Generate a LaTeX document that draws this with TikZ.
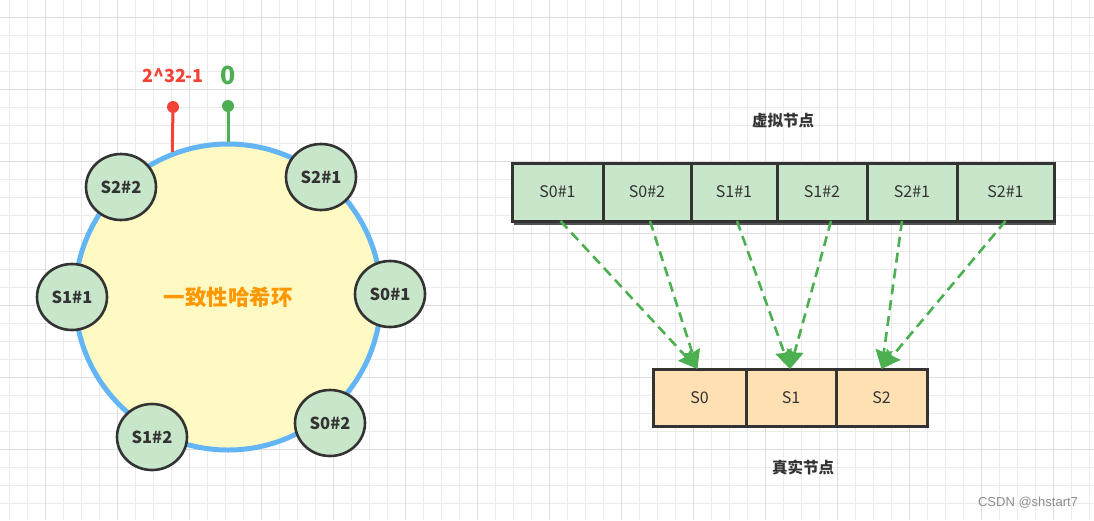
\documentclass[tikz,border=0pt]{standalone}
\usepackage{fontspec}
\setmainfont{Noto Sans CJK SC}
\newfontfamily\markfont{Liberation Sans}
\usepackage{xcolor}
\usetikzlibrary{shapes.geometric,arrows.meta,positioning}
\definecolor{darkline}{HTML}{333333}
\definecolor{ringblue}{HTML}{64B5F6}
\definecolor{ringfill}{HTML}{FFF9C4}
\definecolor{ringorange}{HTML}{FF9800}
\definecolor{vgreen}{HTML}{C8E6C9}
\definecolor{rorange}{HTML}{FFE0B2}
\definecolor{arrowgreen}{HTML}{4CAF50}
\definecolor{pinred}{HTML}{F44336}
\definecolor{gridminor}{HTML}{EBEBEB}
\definecolor{gridmajor}{HTML}{DDDDDD}

\begin{document}
\begin{tikzpicture}[x=1pt,y=-1pt]
\tikzstyle{every node}+=[inner sep=0pt]
\tikzstyle{vnode}=[ellipse,draw=darkline,line width=2.6pt,fill=vgreen,minimum width=70pt,minimum height=66pt,text=darkline,font=\bfseries\fontsize{16.5}{16.5}\selectfont]
\tikzstyle{vcell}=[rectangle,draw=darkline,line width=3pt,outer sep=0pt,fill=vgreen,minimum height=58pt,text=darkline,font=\fontsize{16}{16}\selectfont]
\tikzstyle{rcell}=[vcell,fill=rorange,minimum height=57pt]
\tikzstyle{pindot}=[circle,minimum size=12pt]
\tikzstyle{title}=[text=darkline,font=\bfseries\fontsize{15.5}{15.5}\selectfont]
\tikzstyle{maparrow}=[arrowgreen,line width=2.6pt,dash pattern=on 10pt off 6pt,-{Stealth[length=19pt,width=17pt,inset=2pt]}]
\useasboundingbox (0,0) rectangle (1094,520);
\fill[white] (0,0) rectangle (1094,520);
\foreach \gx in {9,27,...,1090} \draw[gridminor,line width=1pt] (\gx,0) -- (\gx,520);
\foreach \gy in {17,35,...,520} \draw[gridminor,line width=1pt] (0,\gy) -- (1094,\gy);
\foreach \gx in {45,117,...,1060} \draw[gridmajor,line width=1pt] (\gx,0) -- (\gx,520);
\foreach \gy in {17,89,...,460} \draw[gridmajor,line width=1pt] (0,\gy) -- (1094,\gy);

\node[circle,draw=ringblue,line width=5pt,fill=ringfill,minimum size=306pt] (ring) at (228,297) {};
\node[text=ringorange,font=\bfseries\fontsize{21.5}{21.5}\selectfont] (ringname) at (ring.center) {一致性哈希环};

\node[pindot,fill=pinred] (pmax) at (173,107) {};
\node[pindot,fill=arrowgreen] (pzero) at (228,106) {};
\draw[pinred,line width=3pt] (pmax) -- (ring.111);
\draw[arrowgreen,line width=3pt] (pzero) -- (ring.north);
\node[text=pinred,font=\bfseries\fontsize{18}{18}\selectfont] (lmax) at (173,76) {2\^{}32-1};
\node[text=arrowgreen,font=\bfseries\fontsize{25}{25}\selectfont] (lzero) at (228,75) {0};

\node[vnode] (s22) at (121,187) {S2\#2};
\node[vnode] (s21) at (321,177) {S2\#1};
\node[vnode] (s11) at (72,297) {S1\#1};
\node[vnode] (s01) at (390,294) {S0\#1};
\node[vnode] (s12) at (152,437) {S1\#2};
\node[vnode] (s02) at (330,423) {S0\#2};

\node[title] (vtitle) at (783,121) {虚拟节点};
\fill[darkline!85] (514,166) rectangle (1056,225);
\node[vcell,minimum width=91pt,anchor=north west] (v1) at (512,163) {S0\#1};
\node[vcell,minimum width=88pt,right=0pt of v1] (v2) {S0\#2};
\node[vcell,minimum width=86pt,right=0pt of v2] (v3) {S1\#1};
\node[vcell,minimum width=90pt,right=0pt of v3] (v4) {S1\#2};
\node[vcell,minimum width=90pt,right=0pt of v4] (v5) {S2\#1};
\node[vcell,minimum width=97pt,right=0pt of v5] (v6) {S2\#1};

\node[rcell,minimum width=93pt,anchor=north west] (r0) at (653,369) {S0};
\node[rcell,minimum width=90pt,right=0pt of r0] (r1) {S1};
\node[rcell,minimum width=91pt,right=0pt of r1] (r2) {S2};
\node[title] (rtitle) at (803,467) {真实节点};

\draw[maparrow] ([xshift=3pt]v1.south) -- ([xshift=-2pt]r0.north);
\draw[maparrow] ([xshift=3pt]v2.south) -- ([xshift=-2pt]r0.north);
\draw[maparrow] ([xshift=3pt]v3.south) -- ([xshift=-1pt]r1.north);
\draw[maparrow] ([xshift=9pt]v4.south) -- ([xshift=-1pt]r1.north);
\draw[maparrow] ([xshift=-10pt]v5.south) -- (r2.north);
\draw[maparrow] (v6.south) -- (r2.north);

\node[text=black!45,font=\markfont\fontsize{13}{13}\selectfont] (mark) at (1028,503) {CSDN @shstart7};
\end{tikzpicture}
\end{document}
